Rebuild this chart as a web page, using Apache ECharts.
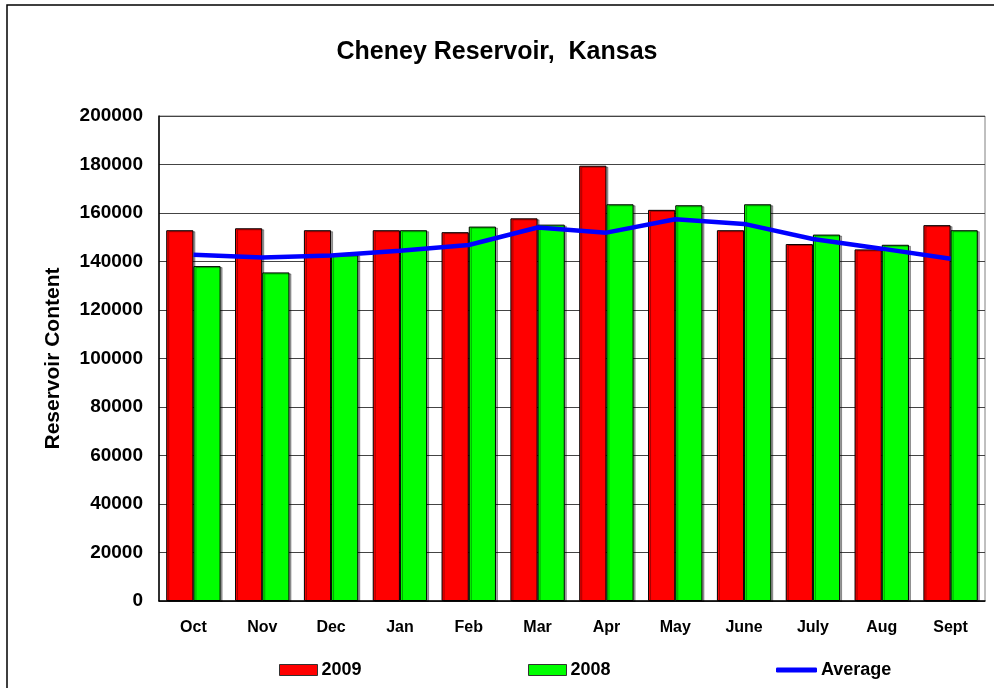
<!DOCTYPE html>
<html>
<head>
<meta charset="utf-8">
<script src="https://cdn.jsdelivr.net/npm/echarts@6/dist/echarts.min.js"></script>
<style>
  html, body { margin: 0; padding: 0; background: #fff; }
  #chart { width: 994px; height: 688px; }
</style>
</head>
<body>
<div id="chart"></div>
<script>
// 月份 (水年 Oct - Sept)
let months = ['Oct', 'Nov', 'Dec', 'Jan', 'Feb', 'Mar', 'Apr', 'May', 'June', 'July', 'Aug', 'Sept']
// 库容数据
let data2009 = [152900, 153700, 152900, 152900, 152100, 157800, 179500, 161300, 152900, 147200, 145000, 155000]
let data2008 = [138100, 135500, 142800, 152900, 154400, 155200, 163600, 163200, 163600, 151100, 146900, 152900]
let dataAverage = [142800, 141600, 142500, 144400, 146800, 154000, 151900, 157400, 155500, 149300, 145300, 141100]
let yTicks = {min: 0, max: 200000, interval: 20000}

let font = "'Liberation Sans', Arial, sans-serif"

let myChart = echarts.init(document.getElementById('chart'))

let barStyle = function (color) {
  return {
    color: color,
    borderColor: '#000',
    borderWidth: 1,
    shadowColor: 'rgba(0,0,0,0.35)',
    shadowOffsetX: 2,
    shadowOffsetY: 1
  }
}

let legendBase = {
  orient: 'horizontal',
  top: 661,
  padding: 0,
  itemGap: 0,
  textStyle: {fontFamily: font, fontWeight: 'bold', fontSize: 18, color: '#000', padding: [0, 0, 0, -1]}
}

function makeLegend(left, name, w, h, icon, style) {
  return Object.assign({}, legendBase, {
    left: left,
    data: [{name: name, icon: icon, itemStyle: style}],
    itemWidth: w,
    itemHeight: h
  })
}

let option = {
  animation: false,
  backgroundColor: '#fff',
  title: {
    text: 'Cheney Reservoir,  Kansas',
    left: 'center',
    top: 35,
    textStyle: {fontFamily: font, fontWeight: 'bold', fontSize: 25, color: '#000'}
  },
  graphic: [{
    type: 'rect',
    shape: {x: 7, y: 5, width: 1000, height: 700},
    style: {fill: 'none', stroke: '#000', lineWidth: 1.5},
    z: -1
  }],
  legend: [
    makeLegend(279, '2009', 38, 11, 'rect', {color: '#ff0000', borderColor: '#333', borderWidth: 1}),
    makeLegend(528, '2008', 38, 11, 'rect', {color: '#00ff00', borderColor: '#333', borderWidth: 1}),
    makeLegend(776, 'Average', 41, 5, 'roundRect', {color: '#0000ff', borderWidth: 0})
  ],
  grid: {
    left: 159,
    right: 9,
    top: 116,
    bottom: 87,
    show: true,
    borderColor: '#808080',
    borderWidth: 1,
    backgroundColor: '#fff'
  },
  xAxis: {
    type: 'category',
    data: months,
    axisLine: {lineStyle: {color: '#000', width: 1.5}},
    axisTick: {show: false},
    axisLabel: {fontFamily: font, fontWeight: 'bold', fontSize: 16, color: '#000', margin: 19}
  },
  yAxis: {
    type: 'value',
    min: yTicks.min,
    max: yTicks.max,
    interval: yTicks.interval,
    name: 'Reservoir Content',
    nameLocation: 'middle',
    nameGap: 95,
    nameRotate: 90,
    nameTextStyle: {fontFamily: font, fontWeight: 'bold', fontSize: 21, color: '#000'},
    axisLine: {show: true, lineStyle: {color: '#000', width: 1.5}},
    axisTick: {show: false},
    axisLabel: {
      fontFamily: font, fontWeight: 'bold', fontSize: 19, color: '#000', margin: 16,
      formatter: function (v) {
        return String(v)
      }
    },
    splitLine: {lineStyle: {color: '#444', width: 1}}
  },
  series: [
    {
      name: '2009',
      type: 'bar',
      data: data2009,
      barGap: '0%',
      barCategoryGap: '21%',
      itemStyle: barStyle('#ff0000')
    },
    {
      name: '2008',
      type: 'bar',
      data: data2008,
      barGap: '0%',
      barCategoryGap: '21%',
      itemStyle: barStyle('#00ff00')
    },
    {
      name: 'Average',
      type: 'line',
      data: dataAverage,
      symbol: 'none',
      lineStyle: {color: '#0000ff', width: 4.5},
      itemStyle: {color: '#0000ff'},
      z: 5
    }
  ]
}

myChart.setOption(option)
</script>
</body>
</html>
